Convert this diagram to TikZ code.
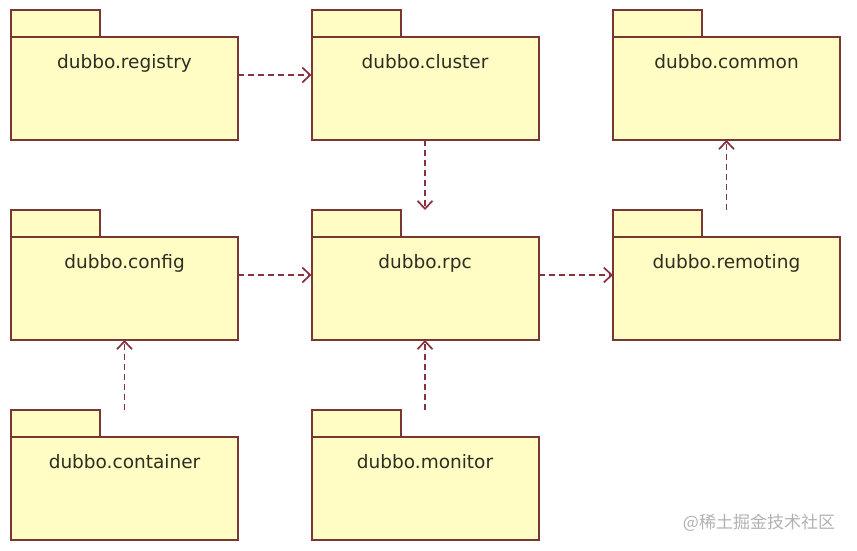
\documentclass[tikz,border=0pt]{standalone}
\usepackage{fontspec}
\setmainfont{DejaVu Sans}
\newfontfamily\cjk{Noto Sans CJK SC}
\usetikzlibrary{arrows.meta,calc}

\definecolor{pkgline}{RGB}{120,55,50}
\definecolor{pkgfill}{RGB}{255,252,196}
\definecolor{deparrow}{RGB}{135,50,62}
\definecolor{pkgtext}{RGB}{45,45,35}

\tikzset{
  pkg/.style={minimum width=227pt, minimum height=130pt, inner sep=0pt, outer sep=0pt},
  pkgbox/.style={draw=pkgline, fill=pkgfill, line width=2pt},
  pkgname/.style={anchor=base, text=pkgtext, font=\fontsize{18.5}{20}\selectfont},
  dep/.style={draw=deparrow, line width=1.7pt, dash pattern=on 6pt off 4pt,
    -{Straight Barb[length=8pt, width=15pt, line width=1.7pt]}},
}

% package: name, x, y, label
\newcommand{\pkg}[4]{
  \node [pkg] (#1) at (#2, #3) {};
  \draw [pkgbox] (#1.north west) rectangle ++(89, -27);
  \draw [pkgbox] ($(#1.north west)+(0,-27)$) rectangle (#1.south east);
  \node [pkgname] (#1-name) at ($(#1.north)+(0,-58)$) {#4};
}

\begin{document}
\begin{tikzpicture}[x=1pt, y=1pt]
  \useasboundingbox [fill=white] (0, 0) rectangle (857, -550);
  \pkg{registry}{124.5}{-75}{dubbo.registry}
  \pkg{cluster}{425}{-75}{dubbo.cluster}
  \pkg{common}{726.5}{-75}{dubbo.common}
  \pkg{config}{124.5}{-275}{dubbo.config}
  \pkg{rpc}{425}{-275}{dubbo.rpc}
  \pkg{remoting}{726.5}{-275}{dubbo.remoting}
  \pkg{container}{124.5}{-475}{dubbo.container}
  \pkg{monitor}{425}{-475}{dubbo.monitor}
  \draw [dep] (registry) to (cluster);
  \draw [dep] (cluster) to (rpc);
  \draw [dep] (config) to (rpc);
  \draw [dep] (rpc) to (remoting);
  \draw [dep] (remoting) to (common);
  \draw [dep] (container) to (config);
  \draw [dep] (monitor) to (rpc);
  \node [text=black!30, font=\cjk\fontsize{17}{18}\selectfont] (mark) at (759, -523) {@稀土掘金技术社区};
\end{tikzpicture}
\end{document}
